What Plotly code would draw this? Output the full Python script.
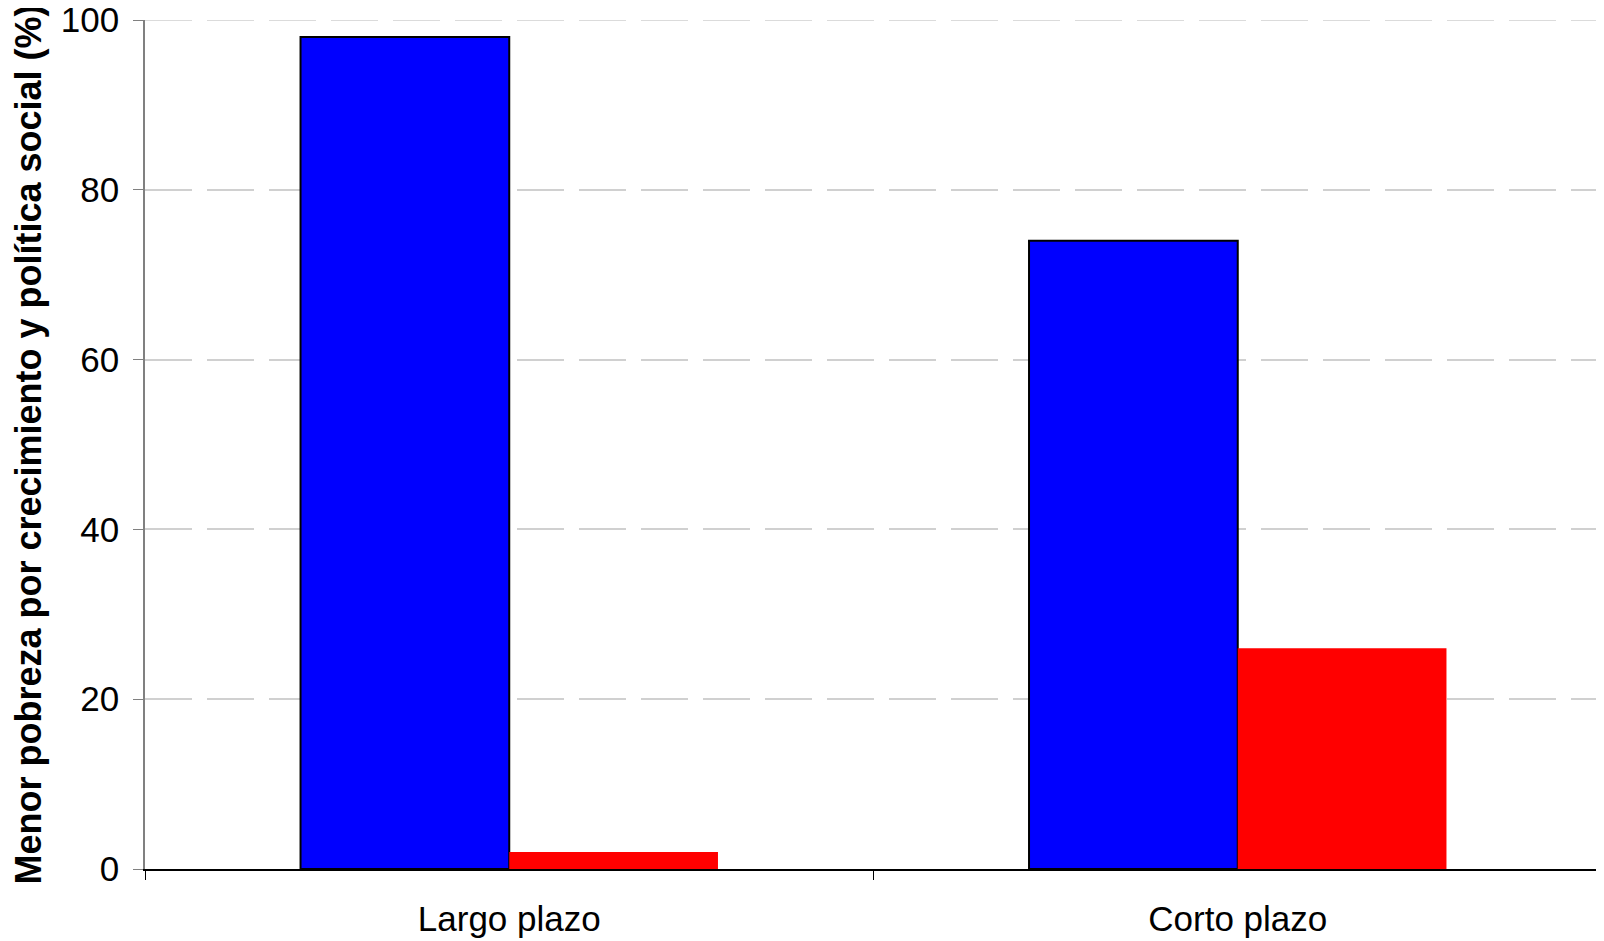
import plotly.graph_objects as go

categories = ["Largo plazo", "Corto plazo"]
crecimiento = [98, 74]
politica_social = [2, 26]
y_ticks = [0, 20, 40, 60, 80, 100]
y_max = 100

fig = go.Figure()
fig.add_trace(go.Bar(
    x=categories, y=crecimiento, name="Crecimiento",
    marker=dict(color="#0000FF", line=dict(color="#000000", width=2)),
))
fig.add_trace(go.Bar(
    x=categories, y=politica_social, name="Política social",
    marker=dict(color="#FF0000", line=dict(width=0)),
))

# top gridline (plotly drops grid lines lying on the plot edge)
fig.add_shape(type="line", xref="paper", yref="y", x0=0, x1=1, y0=y_max, y1=y_max,
              line=dict(color="#D0D0D0", width=1.5, dash="47px,15px"), layer="below")

fig.update_layout(
    width=1596, height=933,
    margin=dict(l=137, r=2, t=12, b=72),
    paper_bgcolor="white", plot_bgcolor="white",
    barmode="group", bargap=0.427, bargroupgap=0,
    showlegend=False,
    font=dict(family="Liberation Sans, Arial, sans-serif", color="black", size=35),
)
fig.update_xaxes(
    tickson="boundaries", ticks="outside", ticklen=9, tickwidth=1, tickcolor="#000000",
    showline=True, linecolor="#000000", linewidth=1.5,
    showgrid=False, tickfont=dict(size=35), automargin=False,
    ticklabelstandoff=18,
)
fig.update_yaxes(
    range=[0, y_max], tickvals=y_ticks, ticks="outside", ticklen=10, tickcolor="#808080",
    showline=True, linecolor="#808080", linewidth=1.5,
    showgrid=True, gridcolor="#D0D0D0", griddash="47px,15px", gridwidth=1.5,
    zeroline=False, tickfont=dict(size=35), automargin=False,
    ticklabelstandoff=7, ticklabeloverflow="allow",
    title=dict(text="<b>Menor pobreza por crecimiento y política social (%)</b>",
               font=dict(size=36), standoff=23),
)
fig.write_html("out.html")
